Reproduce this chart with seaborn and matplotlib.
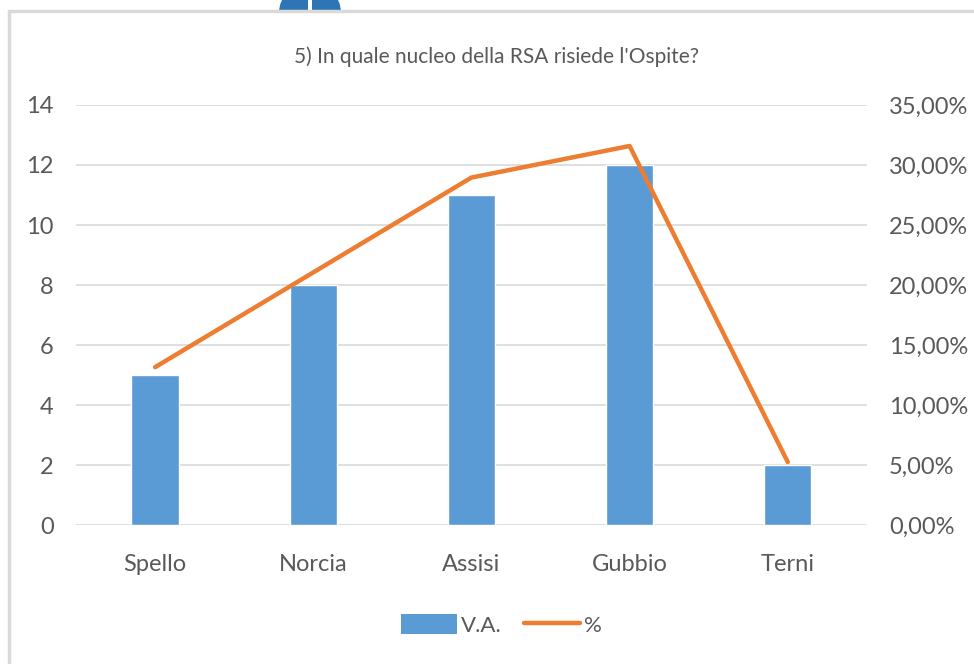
import matplotlib
matplotlib.use("Agg")
import matplotlib.pyplot as plt
import seaborn as sns
import pandas as pd
from matplotlib.patches import Patch, Circle, Rectangle
from matplotlib.lines import Line2D
from matplotlib.ticker import FuncFormatter

# Data
categories = ["Spello", "Norcia", "Assisi", "Gubbio", "Terni"]
counts = [5, 8, 11, 12, 2]
percent = [13.16, 21.05, 28.95, 31.58, 5.26]
title = "5) In quale nucleo della RSA risiede l'Ospite?"

bar_color = "#5B9BD5"
line_color = "#ED7D31"
text_color = "#595959"
grid_color = "#D9D9D9"

sns.set_style("white")
plt.rcParams["font.family"] = ["Lato", "DejaVu Sans"]

df = pd.DataFrame({"Nucleo": categories, "V.A.": counts, "%": percent})

fig = plt.figure(figsize=(9.74, 6.64), dpi=100)
ax = fig.add_axes([0.078, 0.209, 0.812, 0.633])

sns.barplot(data=df, x="Nucleo", y="V.A.", color=bar_color, width=0.30,
            saturation=1, ax=ax, zorder=3)
ax.set_ylim(0, 14)
ax.set_yticks(range(0, 15, 2))
ax.grid(axis="y", color=grid_color, linewidth=1.2, zorder=0)
ax.set_axisbelow(True)
ax.set_xlabel("")
ax.set_ylabel("")
ax.tick_params(axis="both", length=0, colors=text_color, labelsize=17)
ax.tick_params(axis="y", pad=16)
ax.tick_params(axis="x", pad=21)
for s in ax.spines.values():
    s.set_visible(False)

ax2 = ax.twinx()
sns.lineplot(data=df, x="Nucleo", y="%", color=line_color, linewidth=3.2,
             sort=False, ax=ax2, zorder=4)
ax2.set_ylim(0, 35)
ax2.set_yticks(range(0, 36, 5))
ax2.yaxis.set_major_formatter(FuncFormatter(lambda v, p: f"{v:.2f}%".replace(".", ",")))
ax2.set_ylabel("")
ax2.set_xlabel("")
ax2.tick_params(axis="y", length=0, colors=text_color, labelsize=17, pad=16)
for s in ax2.spines.values():
    s.set_visible(False)
ax.set_xlim(-0.5, len(categories) - 0.5)

fig.text(0.51, 0.914, title, ha="center", va="center", fontsize=15, color=text_color)

handles = [Patch(facecolor=bar_color, edgecolor="none"),
           Line2D([0], [0], color=line_color, linewidth=3.2)]
fig.legend(handles, ["V.A.", "%"], loc="center", bbox_to_anchor=(0.515, 0.059),
           ncol=2, frameon=False, fontsize=16, labelcolor=text_color,
           handlelength=2.5, handleheight=1.0, columnspacing=1.0, handletextpad=0.2)

# chart frame and the partial logo above it
fig.patches.append(Circle((310, 651), 31, transform=None, facecolor="#2E75B6",
                          edgecolor="none", zorder=-3))
fig.patches.append(Rectangle((308, 630), 4, 34, transform=None, facecolor="white",
                             edgecolor="none", zorder=-2))
fig.patches.append(Rectangle((0, 0), 974, 653, transform=None, facecolor="white",
                             edgecolor="none", zorder=-1))
fig.add_artist(Line2D([9, 974], [653, 653], transform=None, color=grid_color, linewidth=2.5))
fig.add_artist(Line2D([9, 9], [0, 653], transform=None, color=grid_color, linewidth=2.5))

fig.savefig("out.png", dpi=100)
